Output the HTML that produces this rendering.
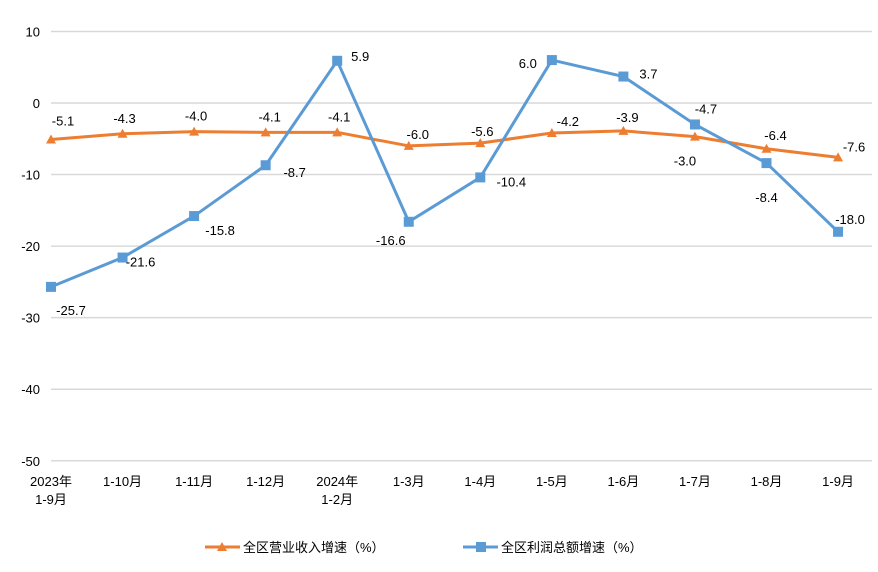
<!DOCTYPE html>
<html><head><meta charset="utf-8"><style>
body{margin:0;background:#fff}
svg text{font-family:"Liberation Sans","Noto Sans CJK SC",sans-serif;font-size:13px;fill:#000}
</style></head><body>
<svg id="c" width="878" height="567"></svg>
<script>
const categories=[["2023年","1-9月"],["1-10月"],["1-11月"],["1-12月"],["2024年","1-2月"],["1-3月"],["1-4月"],["1-5月"],["1-6月"],["1-7月"],["1-8月"],["1-9月"]];
const revenue=[-5.1,-4.3,-4.0,-4.1,-4.1,-6.0,-5.6,-4.2,-3.9,-4.7,-6.4,-7.6];
const profit=[-25.7,-21.6,-15.8,-8.7,5.9,-16.6,-10.4,6.0,3.7,-3.0,-8.4,-18.0];
const yTicks=[10,0,-10,-20,-30,-40,-50];
// label offsets (style, not data)
const revOff=[[12,-19],[2,-16],[2,-16],[4,-16],[2,-16],[9,-12],[2,-12],[16,-12],[4,-14],[11,-28],[9,-14],[16,-11]];
const proOff=[[20,23],[18,4],[26,14],[29,7],[23,-5],[-18,18],[31,4],[-24,3],[25,-3],[-10,36],[0,34],[12,-13]];
const svg=document.getElementById('c');const NS='http://www.w3.org/2000/svg';
const x=i=>51+i*71.55;const y=v=>103-v*7.155;
function mk(t,a,p){const e=document.createElementNS(NS,t);for(const k in a)e.setAttribute(k,a[k]);(p||svg).appendChild(e);return e;}
yTicks.forEach(v=>{
 const l=mk('line',{x1:51,x2:872,y1:y(v),y2:y(v),stroke:'#d9d9d9','stroke-width':1.5});
 
 
 const t=mk('text',{x:40,y:y(v)+5,'text-anchor':'end'});t.textContent=v;
 
 
});
categories.forEach((c,i)=>{c.forEach((s,j)=>{const t=mk('text',{x:x(i),y:486+j*18,'text-anchor':'middle'});t.textContent=s;
 
 });});
function series(d,col,name,mark,off){
 const p=mk('polyline',{points:d.map((v,i)=>x(i)+','+y(v)).join(' '),fill:'none',stroke:col,'stroke-width':3});
 
 
 d.forEach((v,i)=>{let m;
  if(mark==='tri')m=mk('polygon',{points:`${x(i)-5},${y(v)+4} ${x(i)+5},${y(v)+4} ${x(i)},${y(v)-5}`,fill:col});
  else m=mk('rect',{x:x(i)-5,y:y(v)-5,width:10,height:10,fill:col});
  
  
  const t=mk('text',{x:x(i)+off[i][0],y:y(v)+off[i][1]+5,'text-anchor':'middle'});t.textContent=v.toFixed(1);
  
  
 });
}
series(revenue,'#ed7d31','revenue','tri',revOff);
series(profit,'#5b9bd5','profit','sq',proOff);
// legend
const g1=mk('g',{});
mk('line',{x1:205,x2:240,y1:547,y2:547,stroke:'#ed7d31','stroke-width':3},g1);
mk('polygon',{points:'217,551 227,551 222,542',fill:'#ed7d31'},g1);
const t1=mk('text',{x:243,y:552},g1);t1.textContent='全区营业收入增速（%）';
const g2=mk('g',{});
mk('line',{x1:463,x2:498,y1:547,y2:547,stroke:'#5b9bd5','stroke-width':3},g2);
mk('rect',{x:476,y:542,width:10,height:10,fill:'#5b9bd5'},g2);
const t2=mk('text',{x:501,y:552},g2);t2.textContent='全区利润总额增速（%）';
</script>
</body></html>
